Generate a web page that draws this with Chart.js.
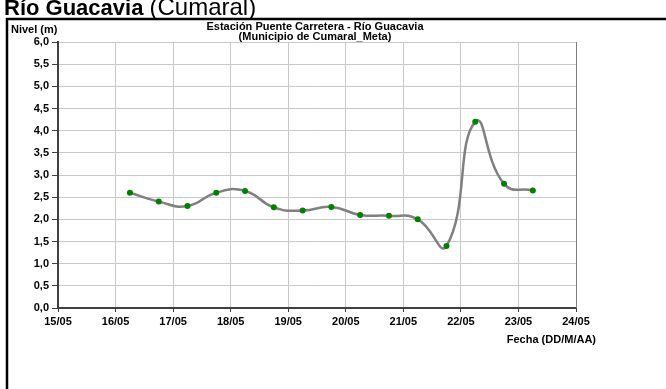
<!DOCTYPE html>
<html>
<head>
<meta charset="utf-8">
<script src="https://cdn.jsdelivr.net/npm/chart.js@4/dist/chart.umd.min.js"></script>
<style>
  body { margin: 0; background: #fff; }
  #wrap { width: 666px; height: 389px; }
</style>
</head>
<body>
<div id="wrap"><canvas id="nivelChart" width="666" height="389"></canvas></div>
<script>
// Fechas (dias de mayo, 06:00 y 18:00) y nivel del rio en metros
const xTickLabels = ["15/05", "16/05", "17/05", "18/05", "19/05", "20/05", "21/05", "22/05", "23/05", "24/05"];
const fechas = [16.25, 16.75, 17.25, 17.75, 18.25, 18.75, 19.25, 19.75, 20.25, 20.75, 21.25, 21.75, 22.25, 22.75, 23.25];
const nivel = [2.6, 2.4, 2.3, 2.6, 2.64, 2.27, 2.2, 2.28, 2.1, 2.08, 2.0, 1.4, 4.2, 2.8, 2.65];

const FONT = "'Liberation Sans', Arial, sans-serif";

// Marco, titulos y rotulos de ejes
const decorations = {
  id: "decorations",
  beforeDraw(chart) {
    const ctx = chart.ctx;
    ctx.save();
    ctx.fillStyle = "#fff";
    ctx.fillRect(0, 0, chart.width, chart.height);
    ctx.strokeStyle = "#000";
    ctx.lineWidth = 2.5;
    ctx.beginPath();
    ctx.moveTo(666, 19);
    ctx.lineTo(7, 19);
    ctx.lineTo(7, 389);
    ctx.stroke();
    ctx.restore();
  },
  afterDraw(chart) {
    const ctx = chart.ctx;
    const area = chart.chartArea;
    ctx.save();
    ctx.fillStyle = "#000";
    ctx.textBaseline = "alphabetic";
    ctx.textAlign = "left";
    ctx.font = "bold 22px " + FONT;
    ctx.fillText("Río Guacavia", 4, 15);
    const w = ctx.measureText("Río Guacavia ").width;
    ctx.font = "24px " + FONT;
    ctx.fillText("(Cumaral)", 4 + w, 15);

    ctx.textBaseline = "middle";
    ctx.font = "bold 11px " + FONT;
    ctx.fillText("Nivel (m)", 11, 30);

    ctx.textAlign = "center";
    ctx.fillText("Estación Puente Carretera - Río Guacavia", 315, 27);
    ctx.fillText("(Municipio de Cumaral_Meta)", 315, 37);

    ctx.textAlign = "right";
    ctx.fillText("Fecha (DD/M/AA)", 596, 340);

    // borde derecho del area de trazado
    ctx.strokeStyle = "#808080";
    ctx.lineWidth = 1;
    ctx.beginPath();
    ctx.moveTo(Math.round(area.right) + 0.5, area.top);
    ctx.lineTo(Math.round(area.right) + 0.5, area.bottom);
    ctx.stroke();
    ctx.restore();
  }
};

const ctxNivel = document.getElementById("nivelChart").getContext("2d");
const nivelChart = new Chart(ctxNivel, {
  type: "line",
  data: {
    datasets: [
      {
        label: "Nivel",
        data: fechas.map((f, i) => ({ x: f, y: nivel[i] })),
        borderColor: "#808080",
        borderWidth: 2.5,
        tension: 0.5,
        pointRadius: 3,
        pointBorderWidth: 0,
        pointBackgroundColor: "#008000",
        fill: false,
      },
    ],
  },
  options: {
    responsive: false,
    animation: false,
    layout: {
      padding: { left: 8, right: 90, top: 42, bottom: 51 },
    },
    scales: {
      x: {
        type: "linear",
        min: 15,
        max: 24,
        afterFit: (s) => { s.height = 30; },
        ticks: {
          stepSize: 1,
          autoSkip: false,
          maxRotation: 0,
          padding: 3,
          color: "#000",
          font: { family: FONT, size: 11, weight: "bold" },
          callback: (v) => xTickLabels[Math.round(v - 15)],
        },
        grid: { color: "#c8c8c8", tickColor: "#404040", tickLength: 4 },
        border: { color: "#404040", width: 2 },
      },
      y: {
        min: 0,
        max: 6,
        afterFit: (s) => { s.width = 50; },
        ticks: {
          stepSize: 0.5,
          padding: 3,
          color: "#000",
          font: { family: FONT, size: 11, weight: "bold" },
          callback: (v) => v.toFixed(1).replace(".", ","),
        },
        grid: { color: "#c8c8c8", tickColor: "#404040", tickLength: 6 },
        border: { color: "#404040", width: 2 },
      },
    },
    plugins: {
      legend: { display: false },
      tooltip: { enabled: false },
    },
  },
  plugins: [decorations],
});
</script>
</body>
</html>
